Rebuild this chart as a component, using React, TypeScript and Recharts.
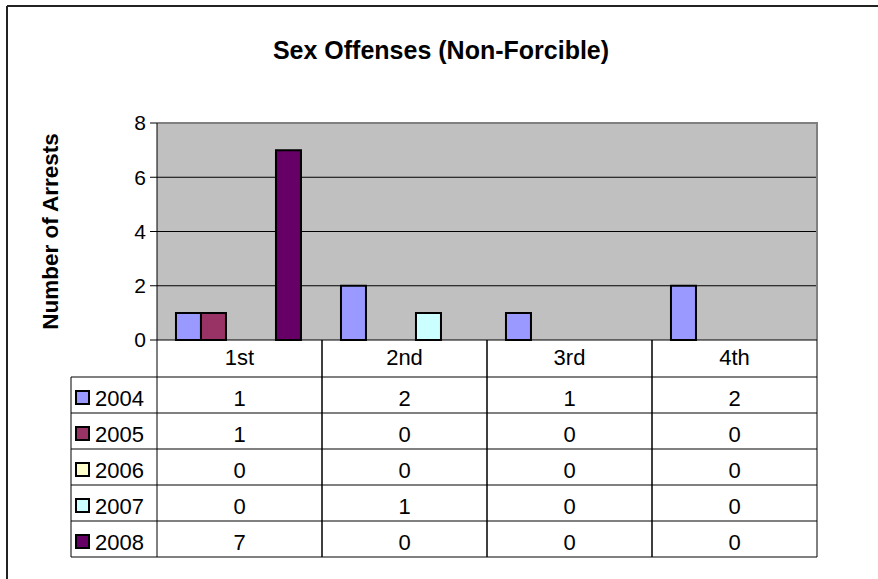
import React from 'react'
import { BarChart, Bar, XAxis, YAxis, CartesianGrid, Customized } from 'recharts'

const categories = ['1st', '2nd', '3rd', '4th']
const years = ['2004', '2005', '2006', '2007', '2008']
const s2004 = [1, 2, 1, 2]
const s2005 = [1, 0, 0, 0]
const s2006 = [0, 0, 0, 0]
const s2007 = [0, 1, 0, 0]
const s2008 = [7, 0, 0, 0]
const yTicks = [0, 2, 4, 6, 8]

const COLORS = ['#9999FF', '#993366', '#FFFFCC', '#CCFFFF', '#660066']
const FONT = 'Arial, "Liberation Sans", sans-serif'

const seriesValues = [s2004, s2005, s2006, s2007, s2008]
const data = categories.map((name, i) => {
  const row: Record<string, string | number> = { name }
  years.forEach((y, k) => {
    row[y] = seriesValues[k][i]
  })
  return row
})

// layout (px)
const W = 878
const H = 579
const PLOT_LEFT = 157
const PLOT_RIGHT = 817
const PLOT_TOP = 123
const PLOT_H = 217
const HEADER_H = 37
const ROW_H = 36
const TABLE_H = HEADER_H + ROW_H * years.length
const LEGEND_W = 86
const TABLE_FS = 22

const TableColumn = (props: any) => {
  const { x, y, payload, index } = props
  const half = payload?.offset || 82.5
  const left = x - half
  const right = x + half
  const i = payload.index ?? index
  return (
    <g fontFamily={FONT}>
      <line x1={left} x2={left} y1={y} y2={y + TABLE_H} stroke="#000" />
      <line x1={right} x2={right} y1={y} y2={y + TABLE_H} stroke="#000" />
      <text x={x} y={y + 25} textAnchor="middle" fontSize={TABLE_FS} fill="#000">
        {payload.value}
      </text>
      {years.map((yr, k) => {
        const top = y + HEADER_H + k * ROW_H
        return (
          <g key={yr}>
            <line x1={i === 0 ? left - LEGEND_W : left} x2={right} y1={top} y2={top} stroke="#000" />
            <text x={x} y={top + 29} textAnchor="middle" fontSize={TABLE_FS} fill="#000">
              {seriesValues[k][i]}
            </text>
            {i === 0 && (
              <g>
                <rect x={left - LEGEND_W + 5} y={top + 14} width={13} height={13} fill={COLORS[k]} stroke="#000" strokeWidth={2} />
                <text x={left - LEGEND_W + 24} y={top + 29} fontSize={TABLE_FS} fill="#000">
                  {yr}
                </text>
              </g>
            )}
          </g>
        )
      })}
      <line x1={i === 0 ? left - LEGEND_W : left} x2={right} y1={y + TABLE_H} y2={y + TABLE_H} stroke="#000" />
      {i === 0 && (
        <line x1={left - LEGEND_W} x2={left - LEGEND_W} y1={y + HEADER_H} y2={y + TABLE_H} stroke="#000" />
      )}
    </g>
  )
}

const Overlay = () => (
  <g>
    <text x={441} y={59} textAnchor="middle" fontFamily={FONT} fontWeight="bold" fontSize={25} fill="#000">
      Sex Offenses (Non-Forcible)
    </text>
    <line x1={7} x2={W} y1={6} y2={6} stroke="#222" strokeWidth={2} />
    <line x1={7} x2={7} y1={6} y2={H} stroke="#222" strokeWidth={2} />
    <line x1={PLOT_LEFT} x2={PLOT_RIGHT + 1} y1={PLOT_TOP} y2={PLOT_TOP} stroke="#808080" strokeWidth={2} />
    <line x1={PLOT_RIGHT} x2={PLOT_RIGHT} y1={PLOT_TOP} y2={PLOT_TOP + PLOT_H} stroke="#808080" strokeWidth={2} />
  </g>
)

const YLabel = (props: any) => {
  const vb = props.viewBox || {}
  const cy = (vb.y ?? PLOT_TOP) + (vb.height ?? PLOT_H) / 2
  return (
    <text
      x={58}
      y={cy}
      transform={`rotate(-90, 58, ${cy})`}
      textAnchor="middle"
      fontFamily={FONT}
      fontWeight="bold"
      fontSize={22.5}
      fill="#000"
    >
      Number of Arrests
    </text>
  )
}

export default function App() {
  return (
    <div style={{ position: 'absolute', left: 0, top: 0, width: W, height: H, background: '#fff' }}>
      <BarChart
        width={W}
        height={H}
        data={data}
        margin={{ top: PLOT_TOP, right: W - PLOT_RIGHT, bottom: H - PLOT_TOP - PLOT_H - TABLE_H, left: 0 }}
        barGap={0}
        barCategoryGap="11.5%"
      >
        <CartesianGrid vertical={false} stroke="#000" fill="#C0C0C0" fillOpacity={1} horizontalValues={[2, 4, 6]} />
        <XAxis
          dataKey="name"
          height={TABLE_H}
          tickSize={0}
          tickMargin={0}
          axisLine={{ stroke: '#000' }}
          tickLine={false}
          interval={0}
          tick={<TableColumn />}
        />
        <YAxis
          width={PLOT_LEFT}
          domain={[0, 8]}
          ticks={yTicks}
          interval={0}
          tickSize={7}
          tickMargin={4}
          axisLine={{ stroke: '#000' }}
          tickLine={{ stroke: '#000' }}
          tick={{ fill: '#000', fontSize: 21, fontFamily: FONT }}
          label={<YLabel />}
        />
        {years.map((yr, k) => (
          <Bar key={yr} dataKey={yr} fill={COLORS[k]} stroke="#000" strokeWidth={2} isAnimationActive={false} />
        ))}
        <Customized component={Overlay} />
      </BarChart>
    </div>
  )
}
